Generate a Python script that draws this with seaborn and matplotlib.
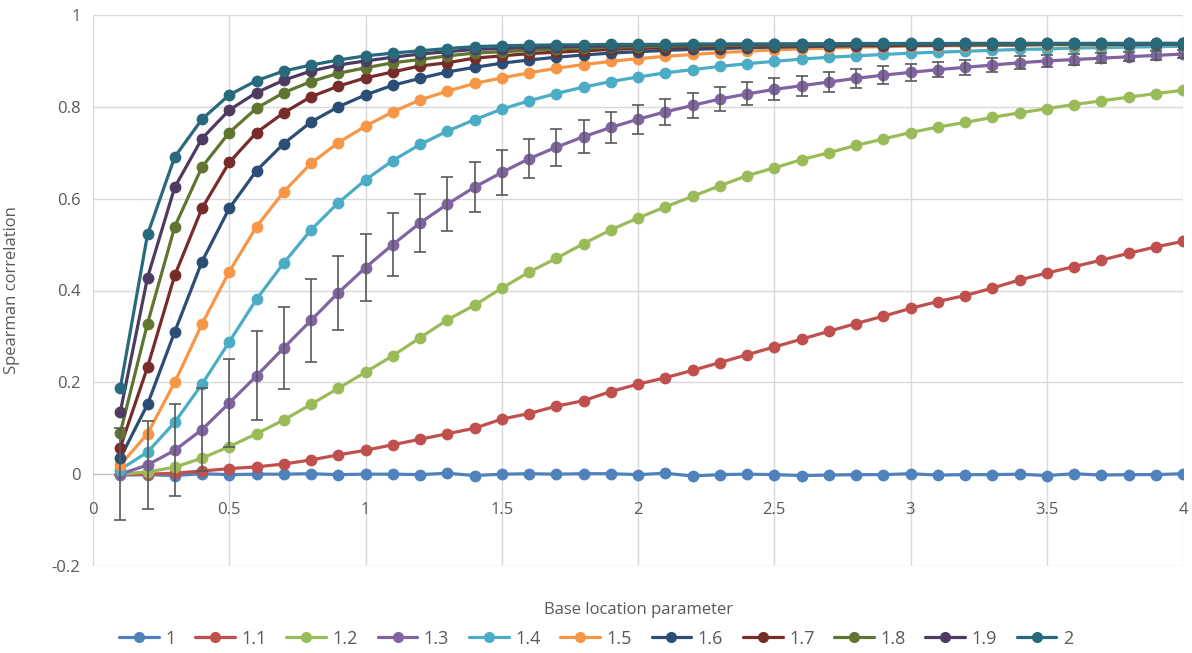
import numpy as np
import pandas as pd
import matplotlib
matplotlib.use("Agg")
import matplotlib.pyplot as plt
import seaborn as sns

# x values: base location parameter
base_loc = [round(0.1 * i, 1) for i in range(1, 41)]

series_names = ['1', '1.1', '1.2', '1.3', '1.4', '1.5', '1.6', '1.7', '1.8', '1.9', '2']

s_1_0 = [-0.002, -0.001, -0.003, 0.001, -0.001, 0.0, 0.0, 0.001, -0.001, 0.0,
         0.0, -0.001, 0.002, -0.003, 0.0, 0.001, 0.0, 0.001, 0.001, -0.001,
         0.002, -0.004, -0.001, 0.0, -0.001, -0.003, -0.002, -0.001, -0.001, 0.001,
         -0.002, -0.001, -0.001, 0.0, -0.003, 0.001, -0.002, -0.001, -0.001, 0.001]
s_1_1 = [0.0, 0.0, 0.002, 0.007, 0.012, 0.016, 0.022, 0.031, 0.042, 0.052,
         0.064, 0.076, 0.088, 0.1, 0.12, 0.132, 0.148, 0.16, 0.18, 0.196,
         0.21, 0.226, 0.243, 0.26, 0.277, 0.294, 0.311, 0.328, 0.344, 0.361,
         0.376, 0.389, 0.405, 0.423, 0.438, 0.452, 0.466, 0.481, 0.495, 0.507]
s_1_2 = [0.0, 0.005, 0.015, 0.035, 0.06, 0.088, 0.118, 0.152, 0.187, 0.222,
         0.258, 0.297, 0.336, 0.368, 0.405, 0.44, 0.47, 0.502, 0.532, 0.558,
         0.582, 0.605, 0.628, 0.65, 0.667, 0.685, 0.7, 0.716, 0.73, 0.744,
         0.756, 0.766, 0.777, 0.787, 0.796, 0.805, 0.813, 0.821, 0.829, 0.836]
s_1_3 = [0.0, 0.02, 0.052, 0.097, 0.155, 0.214, 0.275, 0.335, 0.395, 0.45,
         0.5, 0.547, 0.588, 0.625, 0.657, 0.687, 0.712, 0.735, 0.755, 0.773,
         0.789, 0.803, 0.817, 0.828, 0.838, 0.846, 0.854, 0.862, 0.869, 0.875,
         0.881, 0.886, 0.891, 0.896, 0.9, 0.903, 0.906, 0.909, 0.912, 0.915]
s_1_3_err = [0.1, 0.095, 0.1, 0.09, 0.095, 0.097, 0.089, 0.09, 0.08, 0.072,
             0.068, 0.064, 0.059, 0.054, 0.048, 0.043, 0.04, 0.036, 0.034, 0.032,
             0.029, 0.027, 0.027, 0.025, 0.024, 0.022, 0.021, 0.021, 0.019, 0.018,
             0.017, 0.016, 0.015, 0.014, 0.013, 0.012, 0.011, 0.01, 0.009, 0.008]
s_1_4 = [0.01, 0.048, 0.113, 0.196, 0.288, 0.381, 0.46, 0.532, 0.591, 0.641,
         0.683, 0.718, 0.747, 0.772, 0.795, 0.813, 0.829, 0.843, 0.855, 0.865,
         0.874, 0.881, 0.888, 0.894, 0.899, 0.904, 0.908, 0.911, 0.914, 0.917,
         0.919, 0.921, 0.923, 0.925, 0.926, 0.928, 0.929, 0.93, 0.931, 0.932]
s_1_5 = [0.02, 0.088, 0.2, 0.327, 0.441, 0.539, 0.615, 0.677, 0.722, 0.758,
         0.789, 0.815, 0.834, 0.851, 0.863, 0.874, 0.884, 0.892, 0.899, 0.905,
         0.91, 0.914, 0.918, 0.921, 0.924, 0.926, 0.928, 0.93, 0.931, 0.932,
         0.933, 0.933, 0.934, 0.934, 0.935, 0.935, 0.935, 0.936, 0.936, 0.936]
s_1_6 = [0.035, 0.152, 0.31, 0.463, 0.579, 0.661, 0.72, 0.767, 0.8, 0.826,
         0.847, 0.862, 0.876, 0.886, 0.895, 0.902, 0.908, 0.913, 0.917, 0.92,
         0.923, 0.925, 0.927, 0.929, 0.93, 0.931, 0.932, 0.933, 0.933, 0.934,
         0.934, 0.935, 0.935, 0.935, 0.936, 0.936, 0.936, 0.936, 0.937, 0.937]
s_1_7 = [0.058, 0.233, 0.433, 0.579, 0.679, 0.744, 0.787, 0.822, 0.845, 0.863,
         0.876, 0.889, 0.896, 0.906, 0.911, 0.916, 0.919, 0.922, 0.925, 0.927,
         0.929, 0.93, 0.931, 0.932, 0.933, 0.934, 0.934, 0.935, 0.935, 0.935,
         0.936, 0.936, 0.936, 0.936, 0.937, 0.937, 0.937, 0.937, 0.937, 0.937]
s_1_8 = [0.09, 0.328, 0.539, 0.669, 0.744, 0.797, 0.831, 0.855, 0.873, 0.885,
         0.896, 0.903, 0.911, 0.917, 0.92, 0.923, 0.926, 0.928, 0.93, 0.931,
         0.932, 0.933, 0.934, 0.934, 0.935, 0.935, 0.936, 0.936, 0.936, 0.936,
         0.937, 0.937, 0.937, 0.937, 0.937, 0.937, 0.937, 0.938, 0.938, 0.938]
s_1_9 = [0.135, 0.428, 0.625, 0.731, 0.793, 0.831, 0.858, 0.878, 0.891, 0.9,
         0.908, 0.915, 0.92, 0.925, 0.927, 0.929, 0.931, 0.932, 0.933, 0.934,
         0.935, 0.935, 0.936, 0.936, 0.936, 0.937, 0.937, 0.937, 0.937, 0.937,
         0.937, 0.938, 0.938, 0.938, 0.938, 0.938, 0.938, 0.938, 0.938, 0.938]
s_2_0 = [0.187, 0.522, 0.691, 0.773, 0.826, 0.857, 0.878, 0.891, 0.902, 0.911,
         0.917, 0.922, 0.927, 0.931, 0.933, 0.934, 0.935, 0.935, 0.936, 0.936,
         0.936, 0.937, 0.937, 0.937, 0.937, 0.937, 0.937, 0.938, 0.938, 0.938,
         0.938, 0.938, 0.938, 0.938, 0.938, 0.938, 0.938, 0.938, 0.938, 0.938]

all_series = [s_1_0, s_1_1, s_1_2, s_1_3, s_1_4, s_1_5, s_1_6, s_1_7, s_1_8, s_1_9, s_2_0]

colors = ['#4F81BD', '#C0504D', '#9BBB59', '#8064A2', '#4BACC6', '#F79646',
          '#2C4D75', '#772C2A', '#5F7530', '#4D3B62', '#276A7C']

df = pd.DataFrame({
    'Base location parameter': base_loc * len(series_names),
    'Spearman correlation': [v for s in all_series for v in s],
    'series': [n for n in series_names for _ in base_loc],
})

sns.set_style('white')
plt.rcParams['font.family'] = ['Open Sans', 'DejaVu Sans']

fig = plt.figure(figsize=(11.92, 6.53), dpi=100)
ax = fig.add_axes([93 / 1192, 1 - 566 / 653, 1090 / 1192, 551 / 653])

sns.lineplot(data=df, x='Base location parameter', y='Spearman correlation',
             hue='series', hue_order=series_names, palette=colors,
             marker='o', markersize=8.5, markeredgewidth=0, linewidth=2.3,
             ax=ax, legend=False, zorder=3)

ax.errorbar(base_loc, s_1_3, yerr=s_1_3_err, fmt='none', ecolor='#595959',
            elinewidth=1.2, capsize=4, capthick=1.2, zorder=4)

ax.set_xlim(0, 4)
ax.set_ylim(-0.2, 1)
ax.set_xticks(np.arange(0, 4.01, 0.5))
ax.set_xticklabels(['0', '0.5', '1', '1.5', '2', '2.5', '3', '3.5', '4'])
ax.set_yticks(np.arange(-0.2, 1.01, 0.2))
ax.set_yticklabels(['-0.2', '0', '0.2', '0.4', '0.6', '0.8', '1'])
ax.grid(True, color='#D9D9D9', linewidth=1)
ax.set_axisbelow(True)
for side in ['top', 'right', 'left']:
    ax.spines[side].set_visible(False)
ax.spines['bottom'].set_position(('data', 0))
ax.spines['bottom'].set_color('#BFBFBF')
ax.tick_params(axis='both', length=0, labelsize=12, labelcolor='#595959')
ax.tick_params(axis='x', pad=20)
ax.tick_params(axis='y', pad=9)

ax.set_xlabel('Base location parameter', fontsize=12, color='#595959')
ax.xaxis.set_label_coords(0.5, -0.066)
ax.set_ylabel('Spearman correlation', fontsize=12, color='#595959')
ax.yaxis.set_label_coords(-0.067, 0.5)

handles = [plt.Line2D([], [], color=c, marker='o', markersize=8, linewidth=2.3,
                      markeredgewidth=0) for c in colors]
fig.legend(handles, series_names, loc='center', bbox_to_anchor=(0.5, 0.022),
           ncol=11, frameon=False, fontsize=13, handlelength=2.2,
           columnspacing=1.1, handletextpad=0.35, labelcolor='#595959')

fig.savefig('out.png', dpi=100)
